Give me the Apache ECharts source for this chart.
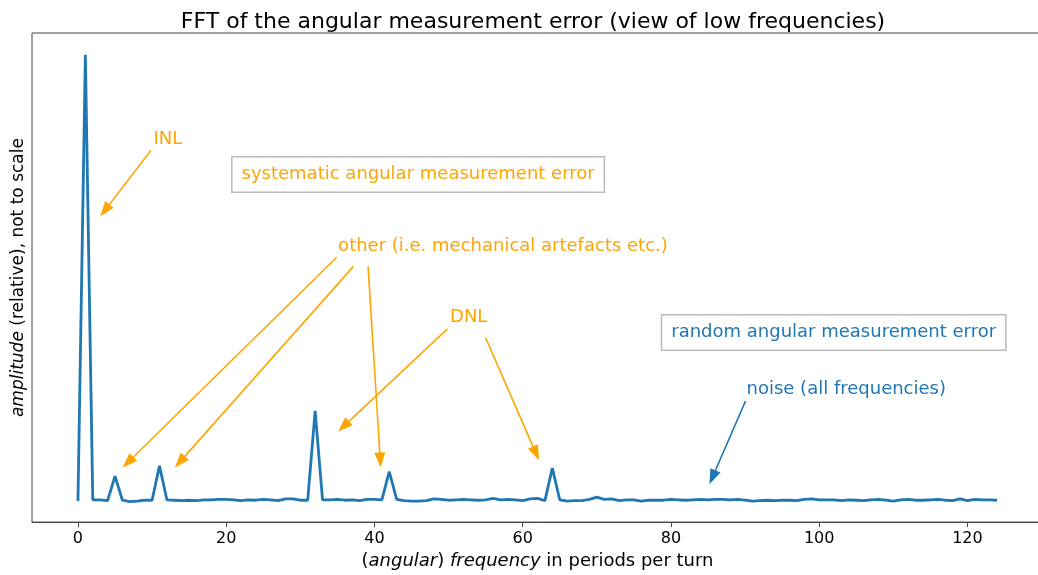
<!DOCTYPE html>
<html>
<head>
<meta charset="utf-8">
<script src="https://cdn.jsdelivr.net/npm/echarts@6/dist/echarts.min.js"></script>
<style>
html, body { margin: 0; padding: 0; background: #fff; overflow: hidden; }
/* the frame runs a few pixels past the right edge of the window, as in the original */
#chart { width: 1046px; height: 575px; }
</style>
</head>
<body>
<div id="chart"></div>
<script>
// relative FFT amplitude, one value per frequency 0..124
const amplitude = [
  0, 100, 0.3, 0.3, 0.1, 5.6, 0.2, -0.1, 0.0, 0.2,
  0.2, 7.9, 0.3, 0.2, 0.1, 0.2, 0.1, 0.3, 0.3, 0.4,
  0.4, 0.3, 0.1, 0.3, 0.2, 0.4, 0.3, 0.1, 0.5, 0.5,
  0.2, 0.2, 20.2, 0.3, 0.3, 0.4, 0.2, 0.3, 0.1, 0.4,
  0.4, 0.3, 6.6, 0.4, 0.1, 0.0, 0.0, 0.1, 0.5, 0.4,
  0.2, 0.3, 0.4, 0.3, 0.2, 0.3, 0.6, 0.3, 0.4, 0.3,
  0.1, 0.5, 0.6, 0.1, 7.4, 0.3, 0.0, 0.1, 0.1, 0.4,
  0.9, 0.4, 0.5, 0.1, 0.3, 0.3, 0.0, 0.2, 0.2, 0.2,
  0.4, 0.3, 0.2, 0.3, 0.4, 0.3, 0.4, 0.4, 0.3, 0.4,
  0.2, 0.0, 0.1, 0.2, 0.1, 0.2, 0.2, 0.1, 0.4, 0.5,
  0.3, 0.3, 0.3, 0.1, 0.3, 0.2, 0.1, 0.3, 0.4, 0.2,
  0.0, 0.3, 0.4, 0.2, 0.2, 0.3, 0.4, 0.2, 0.1, 0.5,
  0.1, 0.4, 0.3, 0.3, 0.2
];
const xTicks = [0, 20, 40, 60, 80, 100, 120];

// annotation texts: [text, x, y, colour, boxed]
const labels = [
  ['INL', 10.2, 81.1, 'orange', false],
  ['systematic angular measurement error', 20.86, 73.2, 'orange', true],
  ['other (i.e. mechanical artefacts etc.)', 35.1, 57.1, 'orange', false],
  ['DNL', 50.2, 41.1, 'orange', false],
  ['random angular measurement error', 78.83, 37.8, 'blue', true],
  ['noise (all frequencies)', 90.2, 25.1, 'blue', false]
];
// arrows: [fromX, fromY, toX, toY, colour]
const arrows = [
  [9.84, 78.6, 3.01, 63.8, 'orange'],
  [34.92, 54.65, 6.03, 7.54, 'orange'],
  [37.17, 52.6, 13.08, 7.54, 'orange'],
  [39.14, 52.6, 40.85, 7.54, 'orange'],
  [49.85, 38.6, 35.1, 15.6, 'orange'],
  [55.0, 36.6, 62.2, 9.17, 'orange'],
  [90.06, 22.4, 85.2, 3.8, 'blue']
];

const colors = { orange: '#ffa500', blue: '#1f77b4' };
const font = 'DejaVu Sans';
const headLen = 15;

const chart = echarts.init(document.getElementById('chart'));

const points = amplitude.map((v, i) => [i, v]);

const option = {
  animation: false,
  title: {
    text: 'FFT of the angular measurement error (view of low frequencies)',
    left: 528,
    textAlign: 'center',
    top: 6,
    textStyle: { fontFamily: font, fontSize: 22, fontWeight: 'normal', color: '#000' }
  },
  grid: {
    left: 32, top: 33, bottom: 52, right: 3,
    show: true, borderColor: '#444', borderWidth: 1
  },
  xAxis: {
    type: 'value',
    min: -6.2, max: 130.2,
    name: '({i|angular}) {i|frequency} in periods per turn',
    nameLocation: 'middle',
    nameGap: 29,
    nameTextStyle: {
      fontFamily: font, fontSize: 18, color: '#000',
      rich: { i: { fontFamily: font, fontSize: 18, fontStyle: 'italic', color: '#000' } }
    },
    axisLine: { show: true, onZero: false, lineStyle: { color: '#444' } },
    axisTick: { show: true, customValues: xTicks, length: 5, lineStyle: { color: '#444' } },
    axisLabel: { customValues: xTicks, margin: 9, fontFamily: font, fontSize: 16, color: '#000' },
    splitLine: { show: false }
  },
  yAxis: {
    type: 'value',
    min: -4.7, max: 104.9,
    name: '{i|amplitude} (relative), not to scale',
    nameLocation: 'middle',
    nameGap: 5,
    nameTextStyle: {
      fontFamily: font, fontSize: 17, color: '#000',
      rich: { i: { fontFamily: font, fontSize: 17, fontStyle: 'italic', color: '#000' } }
    },
    axisLine: { show: false },
    axisTick: { show: false },
    axisLabel: { show: false },
    splitLine: { show: false }
  },
  series: [
    {
      type: 'line',
      data: points,
      showSymbol: false,
      lineStyle: { color: colors.blue, width: 2.8 },
      itemStyle: { color: colors.blue },
      silent: true,
      markPoint: {
        silent: true,
        symbol: 'circle',
        symbolSize: 0,
        data: labels.map(l => ({
          coord: [l[1], l[2]],
          label: {
            show: true,
            position: 'right',
            distance: 0,
            formatter: l[0],
            fontFamily: font,
            fontSize: 18,
            color: colors[l[3]],
            borderColor: l[4] ? '#bbbbbb' : 'transparent',
            borderWidth: l[4] ? 1.5 : 0,
            padding: l[4] ? [8, 9, 8, 9] : 0,
            backgroundColor: l[4] ? '#fff' : 'transparent'
          }
        }))
      }
    }
  ]
};

chart.setOption(option);

// pull each arrow end back by half a head so the triangle tip lands on the target
function arrowEnd(a) {
  const p1 = chart.convertToPixel({ gridIndex: 0 }, [a[0], a[1]]);
  const p2 = chart.convertToPixel({ gridIndex: 0 }, [a[2], a[3]]);
  const dx = p2[0] - p1[0], dy = p2[1] - p1[1];
  const len = Math.hypot(dx, dy);
  const q = [p2[0] - dx / len * headLen / 2, p2[1] - dy / len * headLen / 2];
  return chart.convertFromPixel({ gridIndex: 0 }, q);
}

chart.setOption({
  series: [{
    markLine: {
      silent: true,
      symbol: ['none', 'triangle'],
      symbolSize: [11, headLen],
      label: { show: false },
      emphasis: { disabled: true },
      data: arrows.map(a => [
        { coord: [a[0], a[1]], lineStyle: { color: colors[a[4]], width: 1.6, type: 'solid' } },
        { coord: arrowEnd(a) }
      ])
    }
  }]
});
</script>
</body>
</html>
